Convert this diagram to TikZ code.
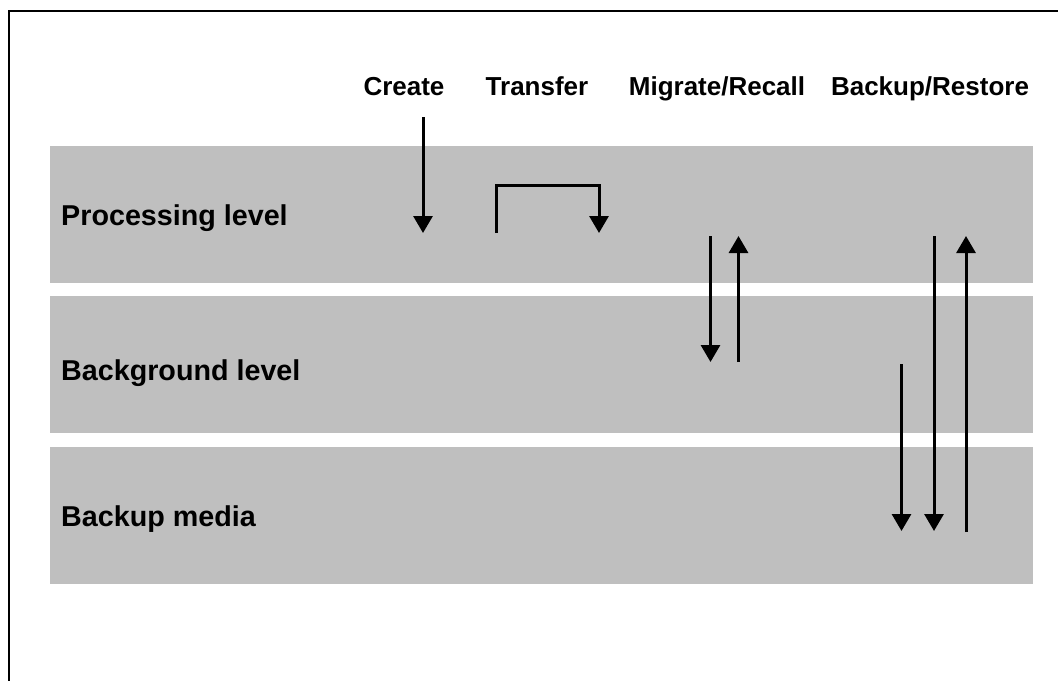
\documentclass[tikz,border=0pt]{standalone}
\usepackage{fontspec}
\setmainfont{Liberation Sans}
\usetikzlibrary{arrows.meta}
\definecolor{bandgray}{RGB}{191,191,191}
\begin{document}
\begin{tikzpicture}[x=1pt,y=-1pt,
  band/.style={fill=bandgray, draw=none, anchor=north west, inner sep=0pt,
    minimum width=983pt, minimum height=137pt},
  levellabel/.style={anchor=base west, inner sep=0pt, font=\fontsize{28.7}{30}\selectfont\bfseries},
  oplabel/.style={anchor=base, inner sep=0pt, font=\fontsize{26}{28}\selectfont\bfseries},
  flow/.style={line width=3pt, -{Triangle[length=17pt,width=19pt]}},
  frameline/.style={line width=2.2pt}]
\useasboundingbox (0,0) rectangle (1059,681);

% outer frame (top and left edges only)
\coordinate (fTL) at (9,11);
\coordinate (fTR) at (1058,11);
\coordinate (fBL) at (9,681);
\draw[frameline] (8,11) -- (fTR);
\draw[frameline] (9,10) -- (fBL);

% storage levels
\node[band] (proc) at (50,146) {};
\node[band] (bg)   at (50,296) {};
\node[band] (media) at (50,447) {};

\node[levellabel] (lproc) at (61,225) {Processing level};
\node[levellabel] (lbg) at (61,380) {Background level};
\node[levellabel] (lmedia) at (61,526) {Backup media};

% operation headings
\node[oplabel] (create) at (404,95.7) {Create};
\node[oplabel] (transfer) at (537,95.7) {Transfer};
\node[oplabel] (migrate) at (717,95.7) {Migrate/Recall};
\node[oplabel] (backup) at (930,95.7) {Backup/Restore};

% Create
\coordinate (c1) at (423,117);
\coordinate (c2) at (423,233);
\draw[flow] (c1) -- (c2);

% Transfer
\coordinate (t1) at (496,233);
\coordinate (t2) at (496,185);
\coordinate (t3) at (599,185);
\coordinate (t4) at (599,233);
\draw[flow] (t1) -- (t2) -- (t3) -- (t4);

% Migrate / Recall
\coordinate (m1) at (710.5,236);
\coordinate (m2) at (710.5,362);
\coordinate (r1) at (738.5,362);
\coordinate (r2) at (738.5,236);
\draw[flow] (m1) -- (m2);
\draw[flow] (r1) -- (r2);

% Backup / Restore
\coordinate (b1) at (901.5,364);
\coordinate (b2) at (901.5,531);
\coordinate (b3) at (934,236);
\coordinate (b4) at (934,531);
\coordinate (s1) at (966,532);
\coordinate (s2) at (966,236);
\draw[flow] (b1) -- (b2);
\draw[flow] (b3) -- (b4);
\draw[flow] (s1) -- (s2);
\end{tikzpicture}
\end{document}
